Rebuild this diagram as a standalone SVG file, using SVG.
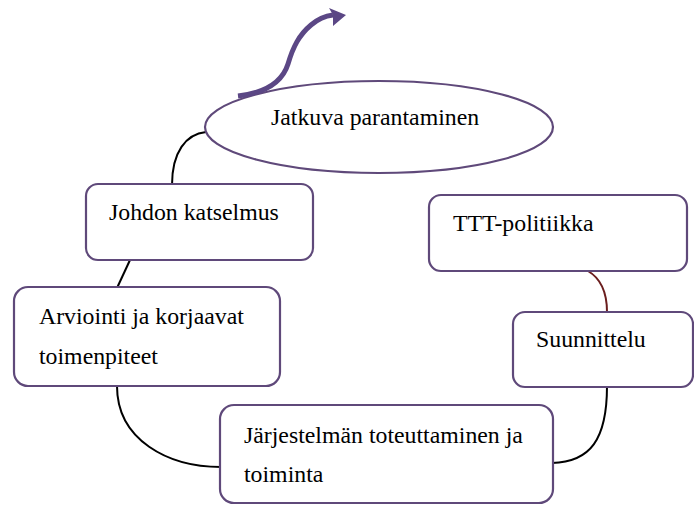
<svg xmlns="http://www.w3.org/2000/svg" width="694" height="505" viewBox="0 0 694 505">
  <style>
    .box { fill: #ffffff; stroke: #5f497a; stroke-width: 2.2; }
    .link { fill: none; stroke: #000000; stroke-width: 2; }
    .link-red { fill: none; stroke: #6b1e1e; stroke-width: 2; }
  </style>

  <!-- connectors between the stages of the cycle -->
  <g id="connectors">
    <path class="link" d="M206,132 C186,134 172,152 172,185"/>
    <path class="link" d="M130,260 L117,288"/>
    <path class="link" d="M117,386 C117,440 168,467 221,467"/>
    <path class="link" d="M552,463 C590,462 607,440 607,386"/>
    <path class="link-red" d="M588,271 C600,278 607,292 607,312"/>
  </g>

  <g font-family="'Liberation Serif', 'DejaVu Serif', serif" font-size="23.8" fill="#000000">
    <!-- continuous improvement ellipse with upward arrow -->
    <g id="jatkuva-parantaminen">
      <ellipse class="box" cx="379" cy="127" rx="174" ry="46"/>
      <text x="271" y="125">Jatkuva parantaminen</text>
    </g>
    <g id="improvement-arrow">
      <path d="M238,96 C264,93 282,83 288,64 C293,47 299,35 311,25 C318,19 325,16 333,15" fill="none" stroke="#5b4785" stroke-width="5"/>
      <polygon points="329,8 346,15 333,26 333,15" fill="#5b4785"/>
    </g>

    <g id="johdon-katselmus">
      <rect class="box" x="86" y="184" width="227" height="76" rx="12"/>
      <text x="109" y="220">Johdon katselmus</text>
    </g>

    <g id="arviointi">
      <rect class="box" x="14" y="287" width="266" height="99" rx="14"/>
      <text x="39" y="324">Arviointi ja korjaavat</text>
      <text x="39" y="364">toimenpiteet</text>
    </g>

    <g id="jarjestelma">
      <rect class="box" x="220" y="405" width="333" height="98" rx="14"/>
      <text x="244" y="443">Järjestelmän toteuttaminen ja</text>
      <text x="244" y="482">toiminta</text>
    </g>

    <g id="suunnittelu">
      <rect class="box" x="513" y="312" width="180" height="75" rx="12"/>
      <text x="536" y="347">Suunnittelu</text>
    </g>

    <g id="ttt-politiikka">
      <rect class="box" x="429" y="195" width="258" height="76" rx="12"/>
      <text x="453" y="231">TTT-politiikka</text>
    </g>
  </g>
</svg>
